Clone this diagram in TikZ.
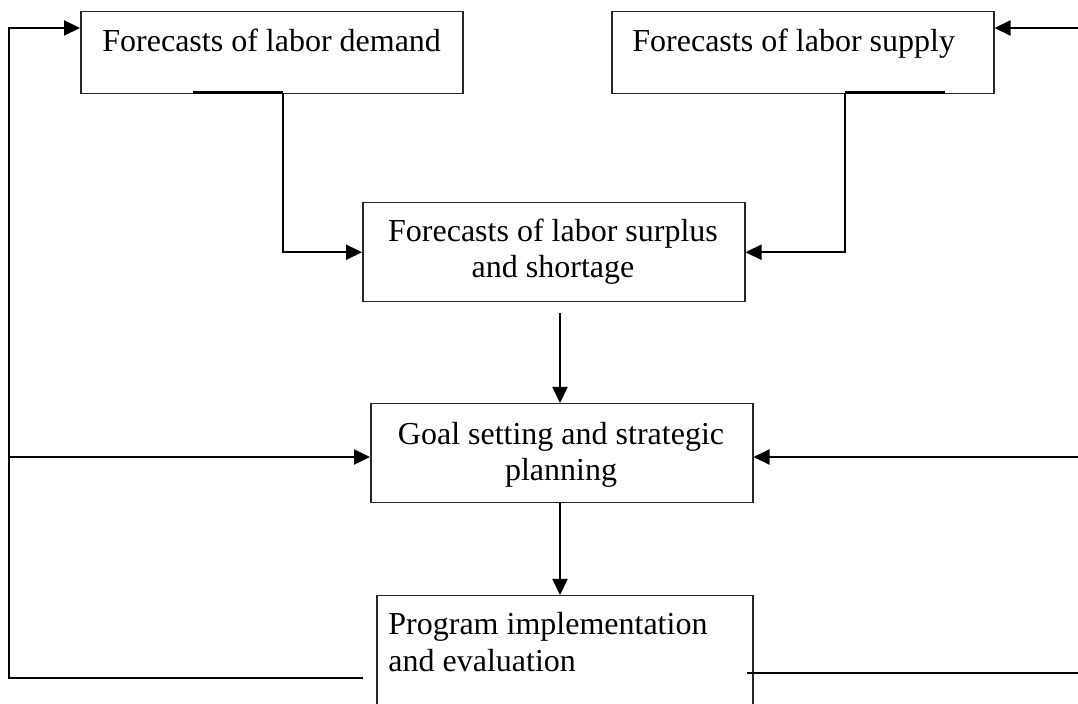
\documentclass[tikz,border=0pt]{standalone}
\usepackage{fontspec}
\setmainfont{Liberation Serif}
\usetikzlibrary{arrows.meta}
\begin{document}
\begin{tikzpicture}[x=0.5pt,y=-0.5pt,
  box/.style={draw=black!85, line width=0.75pt, inner sep=0, anchor=north west},
  txt/.style={inner sep=0, font=\fontsize{16}{18.4}\selectfont},
  conn/.style={line width=1.1pt},
  stub/.style={line width=1.5pt},
  arr/.style={conn, -{Triangle[length=8pt,width=7.5pt]}}]
\useasboundingbox (0,0) rectangle (1078,704);
\clip (0,0) rectangle (1078,704);
% boxes
\node[box, minimum width=191pt, minimum height=41pt] (b1) at (80,11) {};
\node[box, minimum width=191pt, minimum height=41pt] (b2) at (611,11) {};
\node[box, minimum width=191pt, minimum height=49.5pt] (b3) at (362,202) {};
\node[box, minimum width=191pt, minimum height=49.5pt] (b4) at (370,403) {};
\node[box, minimum width=188pt, minimum height=65pt] (b5) at (376,595) {};
% texts
\node[txt, anchor=base west] (t1) at (102,52) {Forecasts of labor demand};
\node[txt, anchor=base west] (t2) at (632,52) {Forecasts of labor supply};
\node[txt, anchor=base] (t3a) at (553,242) {Forecasts of labor surplus};
\node[txt, anchor=base] (t3b) at (553,278) {and shortage};
\node[txt, anchor=base] (t4a) at (561,445) {Goal setting and strategic};
\node[txt, anchor=base] (t4b) at (561,481) {planning};
\node[txt, anchor=base west] (t5a) at (388,635) {Program implementation};
\node[txt, anchor=base west] (t5b) at (388,672) {and evaluation};
% coordinates
\coordinate (d1) at (193,93);
\coordinate (d2) at (283,93);
\coordinate (s1) at (945,93);
\coordinate (s2) at (845,93);
\coordinate (v1) at (560,313);
\coordinate (l1) at (363,678);
\coordinate (l2) at (9,678);
\coordinate (l3) at (9,28);
\coordinate (m) at (9,457);
\coordinate (r1) at (1078,28);
\coordinate (r2) at (1078,457);
\coordinate (r3) at (747,673);
\coordinate (r4) at (1078,673);
% connectors
\draw[stub] (d1) -- (d2);
\draw[arr] (d2) |- (b3.west);
\draw[stub] (s1) -- (s2);
\draw[arr] (s2) |- (b3.east);
\draw[arr] (v1) -- (v1 |- b4.north);
\draw[arr] (b4.south -| v1) -- (b5.north -| v1);
\draw[arr] (l1) -- (l2) -- (l3) -- (l3 -| b1.west);
\draw[arr] (m) -- (m -| b4.west);
\draw[arr] (r1) -- (r1 -| b2.east);
\draw[arr] (r2) -- (r2 -| b4.east);
\draw[conn] (r3) -- (r4);
\end{tikzpicture}
\end{document}
